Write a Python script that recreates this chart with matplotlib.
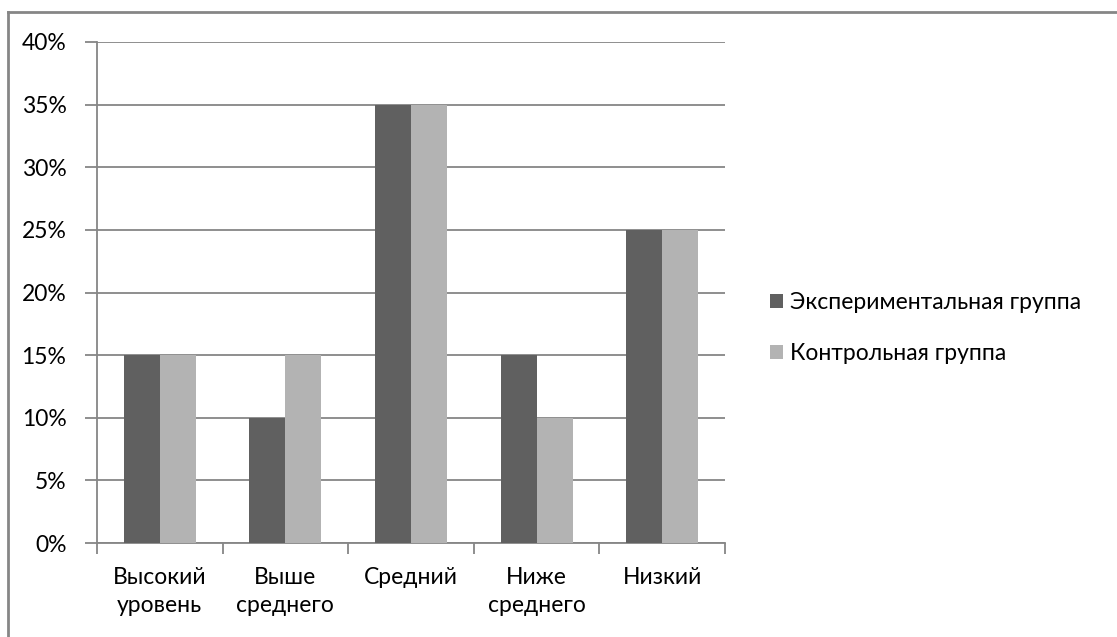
import numpy as np
import matplotlib.pyplot as plt
from matplotlib.lines import Line2D

plt.rcParams['font.family'] = ['Lato', 'DejaVu Sans']

categories = ['Высокий\nуровень', 'Выше\nсреднего', 'Средний', 'Ниже\nсреднего', 'Низкий']
series_names = ['Экспериментальная группа', 'Контрольная группа']
experimental = [15, 10, 35, 15, 25]
control = [15, 15, 35, 10, 25]
y_ticks = [0, 5, 10, 15, 20, 25, 30, 35, 40]

dark = '#606060'
light = '#b3b3b3'
grey = '#868686'
fs = 16.5

fig = plt.figure(figsize=(11.17, 6.37), dpi=100)
ax = fig.add_axes([97 / 1117, 94 / 637, 628 / 1117, 501 / 637])

x = np.arange(len(categories))
w = 0.287
ax.bar(x - w / 2, experimental, w, color=dark, label=series_names[0], zorder=3)
ax.bar(x + w / 2, control, w, color=light, label=series_names[1], zorder=3)

ax.set_xlim(-0.5, len(categories) - 0.5)
ax.set_ylim(0, 40)
ax.set_yticks(y_ticks)
ax.set_yticklabels([f'{t}%' for t in y_ticks], fontsize=fs)
ax.yaxis.grid(True, color=grey, linewidth=1.3, zorder=0)
ax.tick_params(axis='y', length=9, width=1.3, color=grey, pad=13)

ax.set_xticks(x)
ax.set_xticklabels(categories, fontsize=fs, linespacing=1.45)
ax.tick_params(axis='x', which='major', length=0, pad=17)
ax.set_xticks(np.arange(-0.5, len(categories)), minor=True)
ax.tick_params(axis='x', which='minor', length=8, width=1.3, color=grey)

for side in ['top', 'right']:
    ax.spines[side].set_visible(False)
for side in ['left', 'bottom']:
    ax.spines[side].set_color(grey)
    ax.spines[side].set_linewidth(1.3)

fig.legend(loc='center left', bbox_to_anchor=(749 / 1117, 1 - 328 / 637),
           frameon=False, fontsize=fs, handlelength=0.6, handleheight=0.6,
           handletextpad=0.3, labelspacing=1.3)

# chart frame
fig.add_artist(Line2D([7.5 / 1117, 7.5 / 1117], [0, 1 - 12 / 637], transform=fig.transFigure,
                      color=grey, linewidth=2))
fig.add_artist(Line2D([7.5 / 1117, 1], [1 - 12 / 637, 1 - 12 / 637], transform=fig.transFigure,
                      color=grey, linewidth=2))

fig.savefig('out.png', dpi=100)
